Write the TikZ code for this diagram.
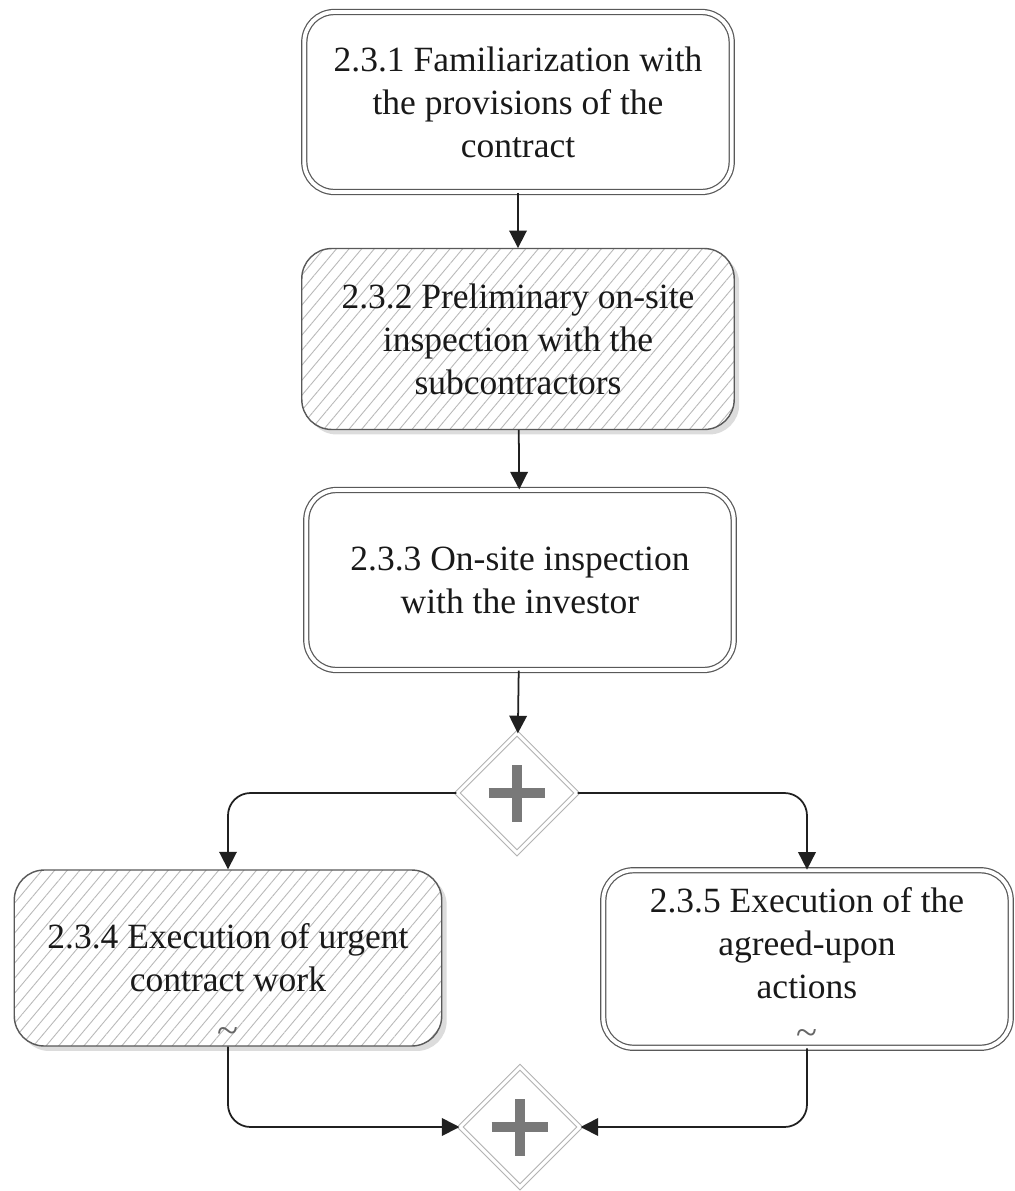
\documentclass[tikz,border=0pt]{standalone}
\usepackage{fontspec}
\setmainfont{Liberation Serif}
\usetikzlibrary{arrows.meta,positioning,shapes.geometric,shadows,patterns.meta}

\tikzset{
  task/.style={rectangle, rounded corners=0.6cm, align=center, inner sep=0pt,
    font=\fontsize{20.2}{24.5}\selectfont, text=black!90},
  plainbox/.style={task, draw=gray!70!black, line width=0.7pt,
    double=white, double distance=2.2pt, fill=white},
  hatchbox/.style={task, draw=gray!70!black, line width=0.8pt,
    drop shadow={shadow xshift=0.1cm, shadow yshift=-0.1cm, fill=gray!55},
    preaction={fill=white},
    pattern={Lines[angle=50,distance=5.5pt,line width=0.5pt]}, pattern color=gray!55},
  gate/.style={diamond, minimum width=2.4cm, minimum height=2.4cm, inner sep=0pt,
    draw=gray!60, line width=0.6pt, double=white, double distance=1.8pt, fill=white,
    path picture={
      \draw[line width=5.5pt, gray!95!black]
        ([xshift=-0.57cm]path picture bounding box.center) -- ([xshift=0.57cm]path picture bounding box.center)
        ([yshift=-0.57cm]path picture bounding box.center) -- ([yshift=0.57cm]path picture bounding box.center);
    }},
  wave/.style={inner sep=0pt, anchor=south, font=\fontsize{22}{22}\selectfont, text=gray!80!black},
  flow/.style={draw=gray!25!black, line width=1pt, rounded corners=0.45cm,
    -{Triangle[length=10pt,width=10pt]}},
}

\begin{document}
\begin{tikzpicture}[x=0.02cm, y=-0.02cm]
  \useasboundingbox (0,0) rectangle (1015,1191);

  % main line
  \node[plainbox, minimum width=8.55cm, minimum height=3.6cm] (b1) at (518,102)
    {2.3.1 Familiarization with\\the provisions of the\\contract};
  \node[hatchbox, minimum width=8.65cm, minimum height=3.62cm] (b2) at (518,339)
    {2.3.2 Preliminary on-site\\inspection with the\\subcontractors};
  \node[plainbox, minimum width=8.55cm, minimum height=3.6cm] (b3) at (520,580)
    {2.3.3 On-site inspection\\with the investor};
  \node[gate] (d1) at (517,793) {};

  % two branches
  \node[hatchbox, minimum width=8.55cm, minimum height=3.52cm] (b4) at (228,958)
    {2.3.4 Execution of urgent\\contract work};
  \node[wave, above=0.06cm of b4.south] (w4) {\textasciitilde};
  \node[plainbox, minimum width=8.15cm, minimum height=3.55cm] (b5) at (807,959) {};
  \node[task, yshift=0.32cm] (t5) at (b5.center)
    {2.3.5 Execution of the\\agreed-upon\\actions};
  \node[wave, above=0.06cm of b5.south] (w5) {\textasciitilde};
  \node[gate] (d2) at (520,1127) {};

  \draw[flow] (b1) -- (b2);
  \draw[flow] (b2) -- (b3);
  \draw[flow] (b3) -- (d1);
  \draw[flow] (d1.west) -| (b4.north);
  \draw[flow] (d1.east) -| (b5.north);
  \draw[flow] (b4.south) |- (d2.west);
  \draw[flow] (b5.south) |- (d2.east);
\end{tikzpicture}
\end{document}
